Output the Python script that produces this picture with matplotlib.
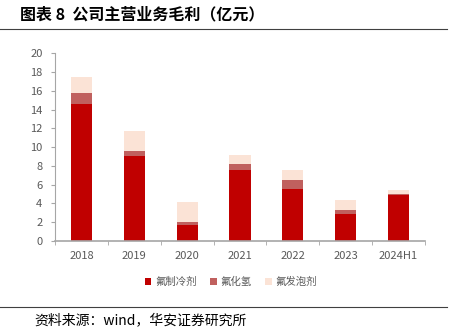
import matplotlib
matplotlib.use("Agg")
from matplotlib import pyplot as plt
import numpy as np

plt.rcParams['font.family'] = ['Noto Sans CJK SC', 'DejaVu Sans']

years = ['2018', '2019', '2020', '2021', '2022', '2023', '2024H1']
refrigerant = [14.6, 9.1, 1.75, 7.6, 5.55, 2.9, 4.95]
hf = [1.2, 0.5, 0.3, 0.65, 0.95, 0.45, 0.1]
foaming = [1.7, 2.1, 2.05, 0.95, 1.05, 1.0, 0.35]
series_names = ['氟制冷剂', '氟化氢', '氟发泡剂']
colors = ['#C00000', '#C0605E', '#FBE3D6']

fig = plt.figure(figsize=(4.53, 3.31), dpi=100)
ax = fig.add_axes([0.1214, 0.272, 0.8166, 0.567])

x = np.arange(len(years))
w = 0.4
b1 = np.array(refrigerant)
b2 = b1 + np.array(hf)
ax.bar(x, refrigerant, w, color=colors[0], label=series_names[0])
ax.bar(x, hf, w, bottom=b1, color=colors[1], label=series_names[1])
ax.bar(x, foaming, w, bottom=b2, color=colors[2], label=series_names[2])

ax.set_xlim(-0.5, len(years) - 0.5)
ax.set_ylim(0, 20)
ax.set_yticks(np.arange(0, 21, 2))
ax.set_xticks(x)
ax.set_xticklabels(years)
ax.set_xticks(np.arange(-0.5, len(years), 1), minor=True)
ax.tick_params(axis='x', which='major', length=0, pad=7, labelsize=8, colors='#595959')
ax.tick_params(axis='x', which='minor', length=3, color='#A6A6A6')
ax.tick_params(axis='y', length=3, color='#A6A6A6', labelsize=8, labelcolor='#595959', pad=6)
for s in ['top', 'right']:
    ax.spines[s].set_visible(False)
for s in ['left', 'bottom']:
    ax.spines[s].set_color('#A6A6A6')
ax.spines['bottom'].set_linewidth(1.2)

ax.legend(loc='center', bbox_to_anchor=(0.51, 0.148), bbox_transform=fig.transFigure,
          ncol=3, frameon=False, fontsize=7.5, handlelength=0.6, handleheight=0.6,
          handletextpad=0.4, columnspacing=1.3, labelcolor='#595959')

fig.text(0.045, 0.955, '图表 8  公司主营业务毛利（亿元）', fontsize=11.5, fontweight='bold',
         va='center', ha='left')
fig.add_artist(plt.Line2D([0, 0.987], [0.912, 0.912], color='#404040', lw=0.8))
fig.add_artist(plt.Line2D([0, 0.987], [0.073, 0.073], color='#404040', lw=0.8))
fig.text(0.075, 0.033, '资料来源：wind，华安证券研究所', fontsize=10, va='center', ha='left')

fig.savefig('out.png', dpi=100)
